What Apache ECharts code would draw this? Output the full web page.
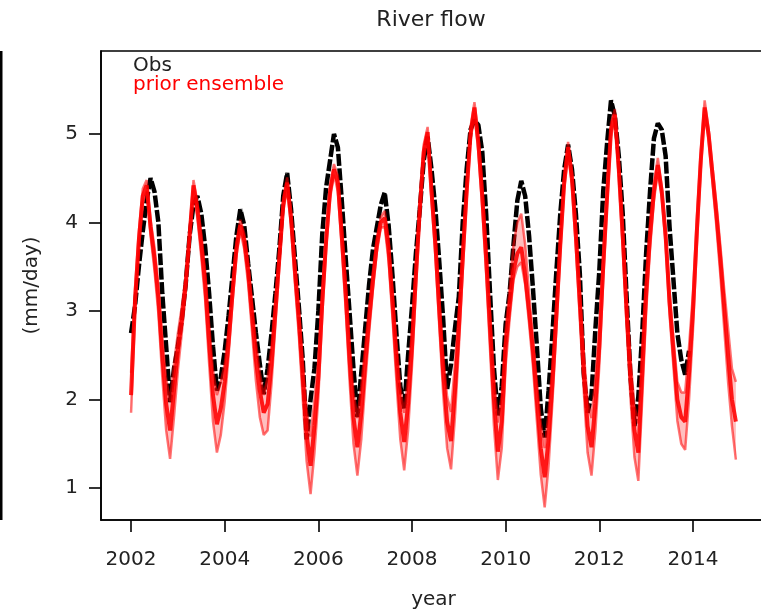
<!DOCTYPE html>
<html>
<head>
<meta charset="utf-8">
<script src="https://cdn.jsdelivr.net/npm/echarts@6/dist/echarts.min.js"></script>
<style>
  html, body { margin: 0; padding: 0; background: #fff; }
  #chart { width: 761px; height: 610px; }
</style>
</head>
<body>
<div id="chart"></div>
<script>
// Monthly river flow (mm/day), first value is January of startYear.
const startYear = 2002;

// Observed flow, Jan 2002 - Dec 2013
const obsFlow = [
  2.75, 3.05, 3.5, 3.9, 4.25, 4.5, 4.35, 4.0, 3.2, 2.6, 1.97, 2.35,
  2.6, 2.9, 3.3, 3.85, 4.2, 4.3, 4.1, 3.72, 3.2, 2.6, 2.1, 2.25,
  2.55, 2.95, 3.4, 3.85, 4.15, 3.97, 3.54, 3.15, 2.75, 2.4, 2.06, 2.35,
  2.75, 3.2, 3.7, 4.3, 4.56, 4.15, 3.6, 3.05, 2.45, 1.55, 2.0, 2.35,
  3.0, 3.87, 4.4, 4.7, 5.0, 4.85, 4.25, 3.6, 2.98, 2.35, 1.8, 2.3,
  2.8, 3.3, 3.7, 3.95, 4.2, 4.34, 3.97, 3.4, 2.75, 2.15, 1.9, 2.5,
  3.05, 3.65, 4.15, 4.7, 4.97, 4.6, 4.15, 3.55, 2.9, 2.12, 2.4, 2.8,
  3.16, 4.0, 4.6, 5.05, 5.16, 5.1, 4.8, 4.1, 3.2, 2.35, 1.82, 2.15,
  2.85, 3.2, 3.75, 4.25, 4.47, 4.3, 3.85, 3.25, 2.6, 1.9, 1.57, 2.1,
  2.75, 3.45, 4.1, 4.6, 4.88, 4.6, 4.1, 3.43, 2.3, 1.85, 2.05, 2.8,
  3.45, 4.35, 4.9, 5.38, 5.2, 4.75, 4.1, 3.16, 2.25, 1.7, 2.03, 2.75,
  3.65, 4.35, 4.95, 5.12, 5.05, 4.75, 3.95, 3.35, 2.75, 2.45, 2.28, 2.55
];

// Prior ensemble, Jan 2002 - Dec 2014: upper member, central member, lower member
const ensHigh = [
  2.3, 3.25, 3.9, 4.38, 4.48, 4.03, 3.72, 3.3, 2.7, 2.23, 1.98, 2.4,
  2.75, 3.05, 3.4, 3.93, 4.48, 4.23, 3.87, 3.45, 2.85, 2.33, 2.05, 2.2,
  2.4, 2.8, 3.3, 3.78, 4.03, 3.88, 3.57, 3.1, 2.65, 2.3, 2.05, 2.25,
  2.6, 3.15, 3.7, 4.28, 4.51, 4.13, 3.57, 3.05, 2.45, 1.88, 1.58, 2.0,
  2.45, 3.25, 3.9, 4.43, 4.66, 4.53, 3.97, 3.35, 2.65, 2.08, 1.79, 2.15,
  2.6, 3.05, 3.45, 3.83, 4.06, 4.13, 3.82, 3.25, 2.65, 2.13, 1.85, 2.25,
  2.8, 3.55, 4.25, 4.88, 5.08, 4.43, 3.87, 3.15, 2.5, 2.03, 1.86, 2.4,
  3.0, 3.75, 4.45, 5.08, 5.36, 4.98, 4.42, 3.75, 3.0, 2.28, 1.74, 2.05,
  2.8, 3.25, 3.75, 4.0, 4.1, 3.75, 3.2, 2.7, 2.2, 1.73, 1.45, 1.85,
  2.4, 3.1, 3.85, 4.53, 4.91, 4.58, 3.97, 3.25, 2.55, 1.98, 1.79, 2.25,
  2.8, 3.65, 4.4, 5.13, 5.28, 4.68, 3.97, 3.15, 2.45, 1.93, 1.73, 2.6,
  3.4, 4.0, 4.45, 4.73, 4.41, 3.93, 3.22, 2.7, 2.2, 2.08, 2.08, 2.6,
  3.2, 4.05, 4.8, 5.38, 5.06, 4.63, 4.22, 3.75, 3.25, 2.8, 2.35, 2.2
];
const ensMean = [
  2.05, 3.1, 3.8, 4.3, 4.42, 3.95, 3.6, 3.15, 2.5, 1.95, 1.65, 2.1,
  2.55, 2.9, 3.3, 3.85, 4.42, 4.15, 3.75, 3.3, 2.65, 2.05, 1.72, 1.9,
  2.2, 2.65, 3.2, 3.7, 3.97, 3.8, 3.45, 2.95, 2.45, 2.1, 1.85, 1.95,
  2.4, 3.0, 3.6, 4.2, 4.45, 4.05, 3.45, 2.9, 2.25, 1.6, 1.25, 1.7,
  2.25, 3.1, 3.8, 4.35, 4.6, 4.45, 3.85, 3.2, 2.45, 1.8, 1.46, 1.85,
  2.4, 2.9, 3.35, 3.75, 4.0, 4.05, 3.7, 3.1, 2.45, 1.85, 1.52, 1.95,
  2.6, 3.4, 4.15, 4.8, 5.02, 4.35, 3.75, 3.0, 2.3, 1.75, 1.53, 2.1,
  2.8, 3.6, 4.35, 5.0, 5.3, 4.9, 4.3, 3.6, 2.8, 2.0, 1.41, 1.75,
  2.6, 3.05, 3.45, 3.65, 3.72, 3.4, 3.0, 2.55, 2.0, 1.45, 1.12, 1.55,
  2.2, 2.95, 3.75, 4.45, 4.85, 4.5, 3.85, 3.1, 2.35, 1.7, 1.46, 1.95,
  2.6, 3.5, 4.3, 5.05, 5.22, 4.6, 3.85, 3.0, 2.25, 1.65, 1.4, 2.3,
  3.2, 3.85, 4.35, 4.65, 4.35, 3.85, 3.1, 2.55, 2.0, 1.8, 1.75, 2.3,
  3.0, 3.9, 4.7, 5.3, 5.0, 4.55, 4.1, 3.6, 3.05, 2.5, 2.0, 1.75
];
const ensLow = [
  1.85, 2.95, 3.7, 4.22, 4.36, 3.85, 3.46, 2.97, 2.26, 1.65, 1.33, 1.8,
  2.33, 2.75, 3.2, 3.77, 4.36, 4.05, 3.61, 3.12, 2.41, 1.75, 1.4, 1.6,
  1.98, 2.5, 3.1, 3.62, 3.91, 3.7, 3.31, 2.77, 2.21, 1.8, 1.6, 1.65,
  2.18, 2.85, 3.5, 4.12, 4.39, 3.95, 3.31, 2.72, 2.01, 1.3, 0.93, 1.4,
  2.03, 2.95, 3.7, 4.27, 4.54, 4.35, 3.71, 3.02, 2.21, 1.5, 1.14, 1.55,
  2.18, 2.75, 3.25, 3.67, 3.94, 3.95, 3.56, 2.92, 2.21, 1.55, 1.2, 1.65,
  2.38, 3.25, 4.05, 4.72, 4.96, 4.25, 3.61, 2.82, 2.06, 1.45, 1.21, 1.8,
  2.58, 3.45, 4.25, 4.92, 5.24, 4.8, 4.16, 3.42, 2.56, 1.7, 1.09, 1.45,
  2.38, 2.9, 3.35, 3.5, 3.55, 3.3, 2.86, 2.37, 1.76, 1.15, 0.78, 1.25,
  1.98, 2.8, 3.65, 4.37, 4.79, 4.4, 3.71, 2.92, 2.11, 1.4, 1.14, 1.65,
  2.38, 3.35, 4.2, 4.97, 5.16, 4.5, 3.71, 2.82, 2.01, 1.35, 1.08, 2.0,
  2.98, 3.7, 4.25, 4.57, 4.29, 3.75, 2.96, 2.37, 1.76, 1.5, 1.43, 2.0,
  2.78, 3.75, 4.6, 5.22, 4.94, 4.45, 3.96, 3.42, 2.81, 2.2, 1.7, 1.32
];

// Axis ticks
const yearTicks = [2002, 2004, 2006, 2008, 2010, 2012, 2014];
const flowTicks = [1, 2, 3, 4, 5];

const FONT = '"DejaVu Sans", "Liberation Sans", sans-serif';
const INK = '#222';

// month index -> decimal year
const monthTime = i => startYear + i / 12;
const toPoints = values => values.map((v, i) => [monthTime(i), v]);

const chart = echarts.init(document.getElementById('chart'), null, { renderer: 'canvas' });

const axisText = { color: INK, fontSize: 20, fontFamily: FONT };

chart.setOption({
  animation: false,
  backgroundColor: '#fff',
  grid: {
    show: true, left: 101, top: 51, width: 665, height: 469,
    outerBoundsMode: 'none', containLabel: false,
    borderColor: '#000', borderWidth: 1.6, backgroundColor: 'transparent'
  },
  xAxis: {
    type: 'value', min: 2001.358, max: 2015.56,
    name: 'year', nameLocation: 'middle', nameGap: 70,
    nameTextStyle: axisText,
    axisLine: { show: true, onZero: false, lineStyle: { color: '#000', width: 1.6 } },
    axisTick: { show: true, length: 12, customValues: yearTicks, lineStyle: { color: '#000', width: 1.6 } },
    axisLabel: { customValues: yearTicks, formatter: v => String(v), margin: 30, ...axisText },
    splitLine: { show: false }
  },
  yAxis: {
    type: 'value', min: 0.638, max: 5.938,
    name: '(mm/day)', nameLocation: 'middle', nameGap: 59,
    nameTextStyle: axisText,
    axisLine: { show: true, onZero: false, lineStyle: { color: '#000', width: 1.6 } },
    axisTick: { show: true, length: 12, customValues: flowTicks, lineStyle: { color: '#000', width: 1.6 } },
    axisLabel: { customValues: flowTicks, formatter: v => String(v), margin: 23, ...axisText },
    splitLine: { show: false }
  },
  series: [
    {
      name: 'Obs', type: 'line', data: toPoints(obsFlow),
      showSymbol: false, symbol: 'none', silent: true,
      lineStyle: { color: '#000', width: 4.5, type: [12, 2.5] },
      z: 2
    },
    {
      // spread of the prior ensemble, filled between its outer members
      name: 'prior ensemble spread', type: 'custom', silent: true, clip: true,
      data: [[monthTime(0), ensMean[0]]],
      renderItem: (params, api) => {
        if (params.dataIndex !== 0) return null;
        const pts = [];
        for (let i = 0; i < ensHigh.length; i++) pts.push(api.coord([monthTime(i), ensHigh[i]]));
        for (let i = ensLow.length - 1; i >= 0; i--) pts.push(api.coord([monthTime(i), ensLow[i]]));
        return { type: 'polygon', shape: { points: pts }, style: { fill: 'rgba(255,0,0,0.25)' } };
      },
      z: 3
    },
    {
      name: 'prior high', type: 'line', data: toPoints(ensHigh),
      showSymbol: false, symbol: 'none', silent: true,
      lineStyle: { color: 'rgba(255,0,0,0.55)', width: 2.5 }, z: 4
    },
    {
      name: 'prior low', type: 'line', data: toPoints(ensLow),
      showSymbol: false, symbol: 'none', silent: true,
      lineStyle: { color: 'rgba(255,0,0,0.55)', width: 2.5 }, z: 4
    },
    {
      name: 'prior ensemble', type: 'line', data: toPoints(ensMean),
      showSymbol: false, symbol: 'none', silent: true,
      lineStyle: { color: 'rgba(255,0,0,0.88)', width: 4 }, z: 5
    }
  ],
  graphic: [
    // edge of the neighbouring panel
    { type: 'rect', left: 0, top: 51, shape: { x: 0, y: 0, width: 2.5, height: 469 }, style: { fill: '#000' }, silent: true },
    {
      type: 'text', x: 431, y: 20,
      style: { text: 'River flow', fill: INK, font: '22px ' + FONT, align: 'center', verticalAlign: 'middle' }
    },
    {
      type: 'text', x: 133, y: 66,
      style: { text: 'Obs', fill: INK, font: '20px ' + FONT, align: 'left', verticalAlign: 'middle' }
    },
    {
      type: 'text', x: 133, y: 85,
      style: { text: 'prior ensemble', fill: '#ff0000', font: '20px ' + FONT, align: 'left', verticalAlign: 'middle' }
    }
  ]
});
</script>
</body>
</html>
